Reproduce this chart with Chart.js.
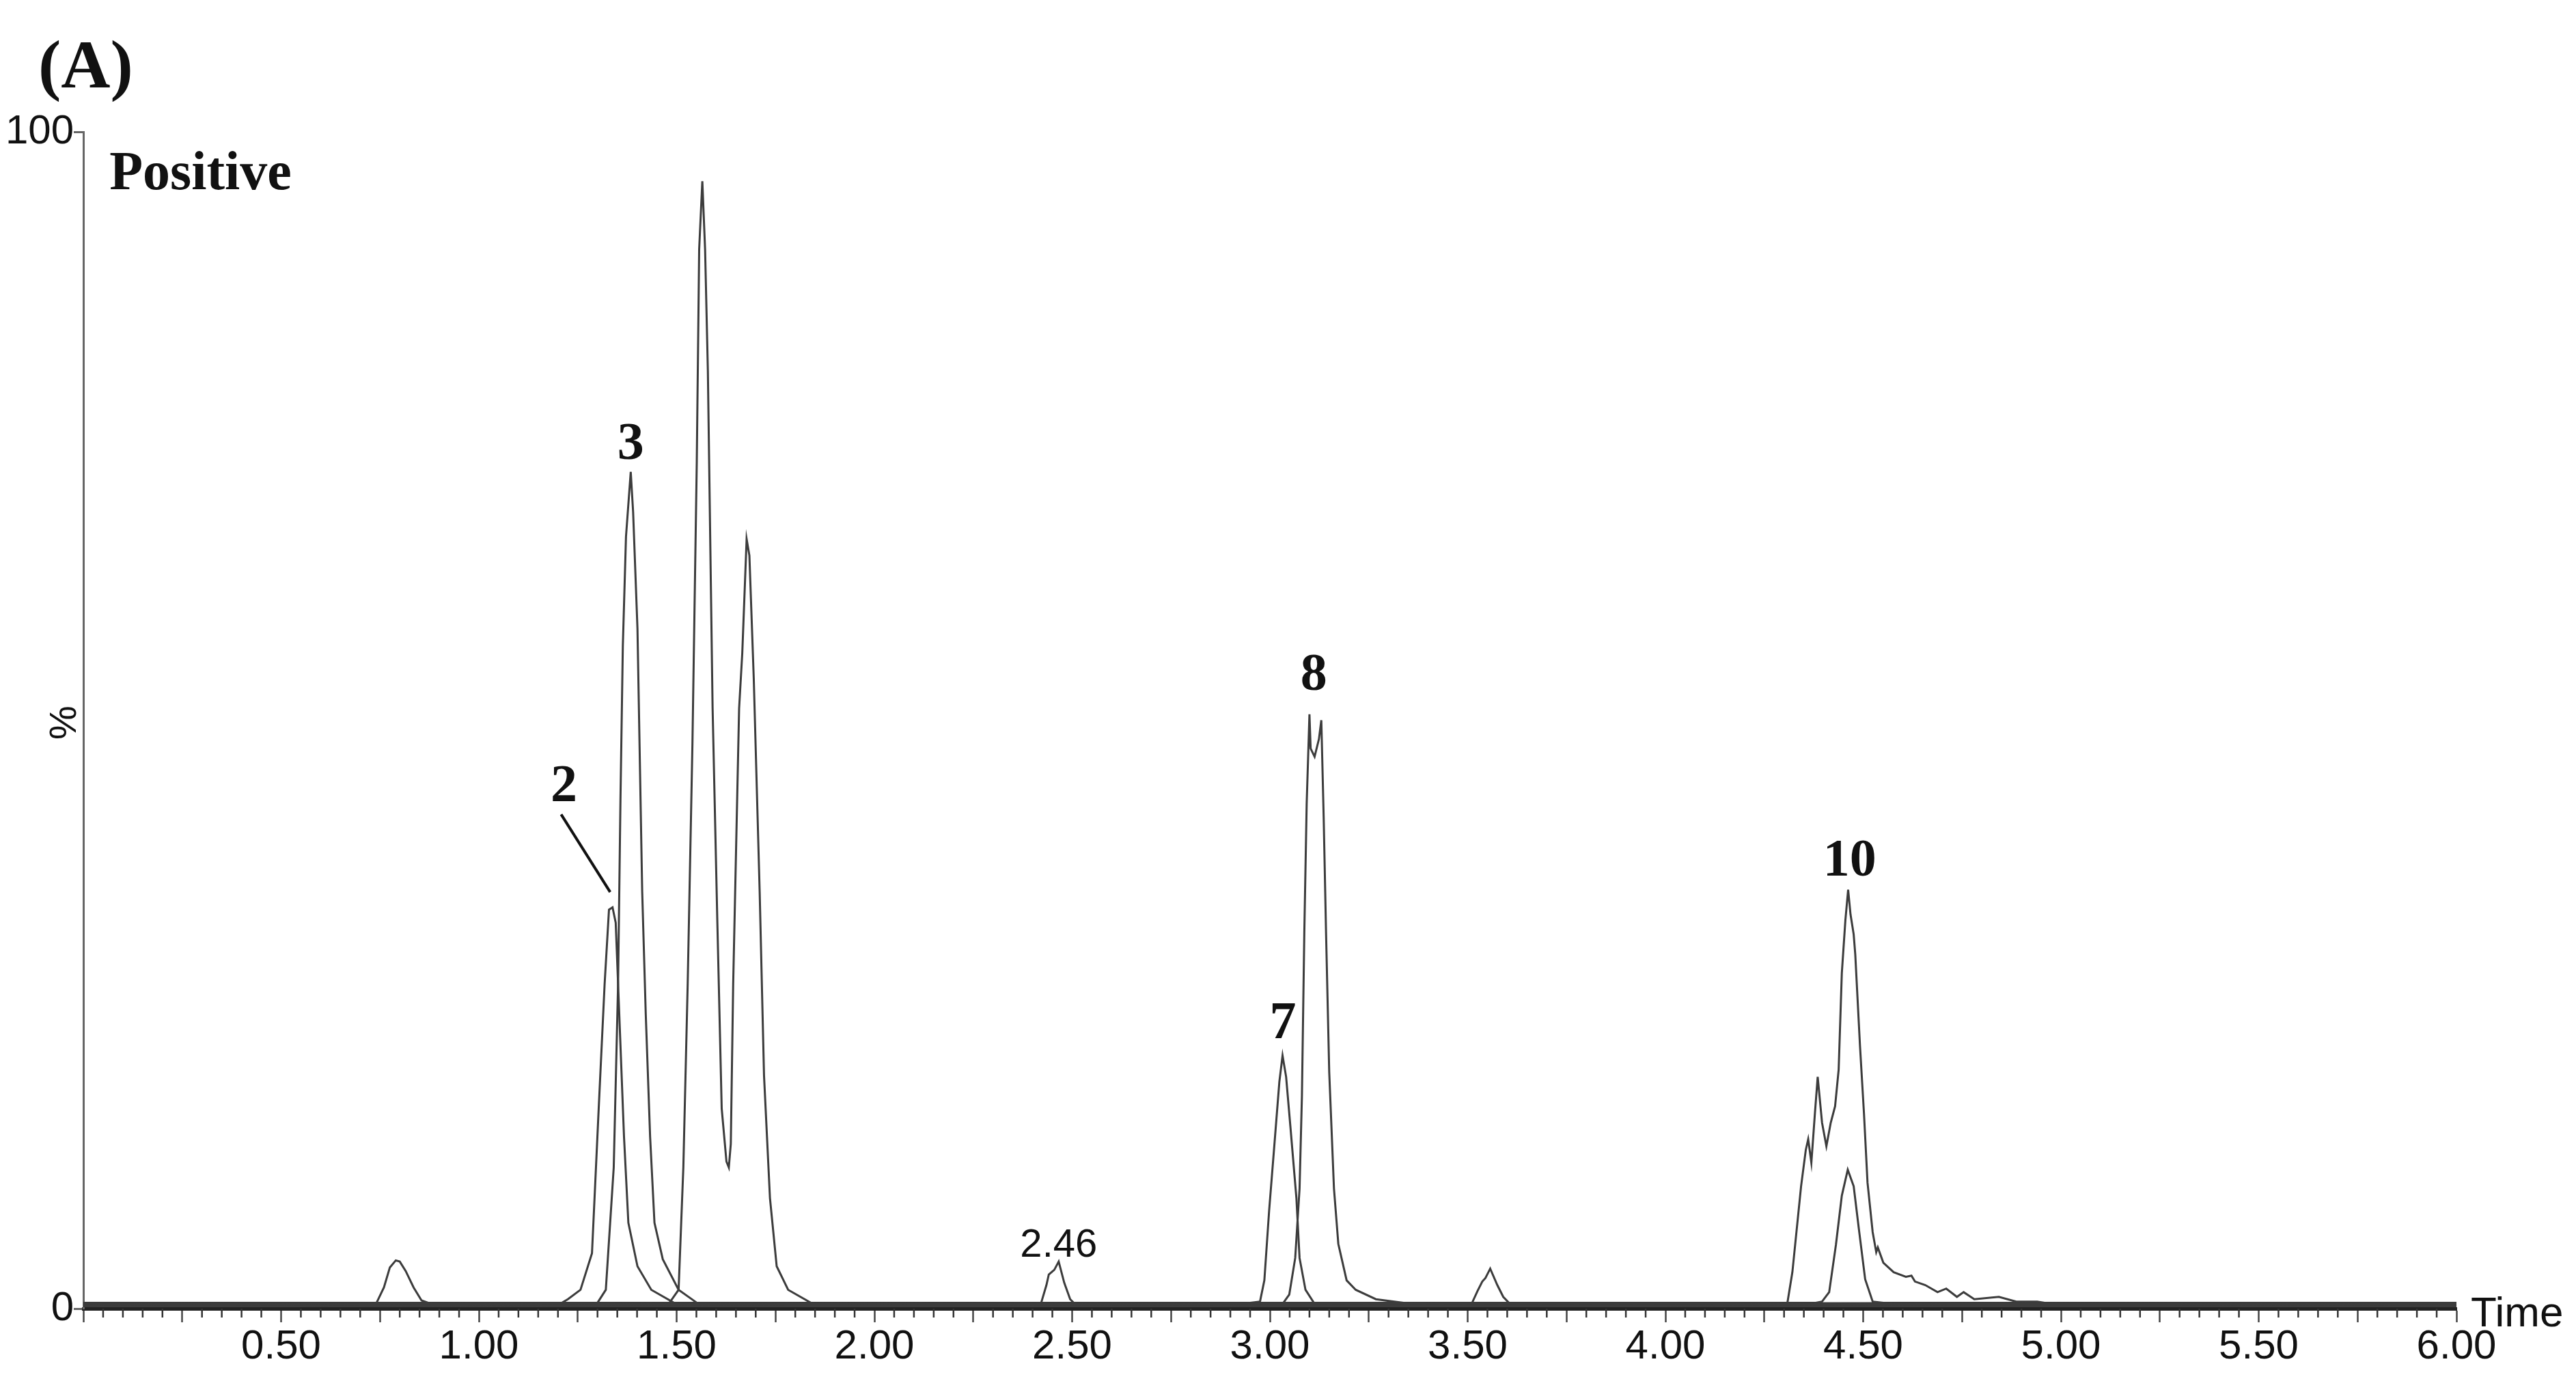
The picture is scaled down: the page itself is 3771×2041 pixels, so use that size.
<!DOCTYPE html>
<html>
<head>
<meta charset="utf-8">
<script src="https://cdn.jsdelivr.net/npm/chart.js@4.4.1/dist/chart.umd.min.js"></script>
<style>
  html, body { margin: 0; padding: 0; background: #fff; }
  canvas { display: block; }
</style>
</head>
<body>
<canvas id="chart" width="3771" height="2041"></canvas>
<script>
// x axis labels (min) and y axis ticks (%)
const timeLabels = ['0.50', '1.00', '1.50', '2.00', '2.50', '3.00', '3.50', '4.00', '4.50', '5.00', '5.50', '6.00'];
const yTicks = [0, 100];

// overlaid chromatogram traces, retention time (min) / relative intensity (%)
const rt078 = [0, 0.30, 0.60, 0.74, 0.76, 0.775, 0.79, 0.80, 0.815, 0.835, 0.855, 0.88, 1.20, 2.00, 3.00, 4.00, 5.00, 6.00];
const int078 = [0.3, 0.4, 0.3, 0.4, 1.8, 3.5, 4.1, 4.0, 3.2, 1.8, 0.7, 0.4, 0.3, 0.4, 0.3, 0.3, 0.4, 0.3];

const rtPeak2 = [0, 1.20, 1.225, 1.257, 1.286, 1.303, 1.318, 1.329, 1.338, 1.346, 1.355, 1.367, 1.378, 1.401, 1.436, 1.493, 1.60, 6.00];
const intPeak2 = [0.2, 0.3, 0.8, 1.6, 4.7, 17, 27.6, 33.9, 34.1, 32.8, 25, 14.6, 7.3, 3.6, 1.6, 0.5, 0.2, 0.2];

const rtPeak3 = [0, 1.30, 1.321, 1.341, 1.352, 1.358, 1.364, 1.372, 1.384, 1.390, 1.401, 1.413, 1.422, 1.433, 1.444, 1.465, 1.505, 1.551, 1.65, 6.00];
const intPeak3 = [0.5, 0.5, 1.6, 12, 27.6, 43.2, 56.3, 65.6, 71.1, 67.7, 57.8, 35.4, 25, 14.6, 7.3, 4.2, 1.6, 0.5, 0.4, 0.5];

const rtDoublet = [0, 1.48, 1.505, 1.517, 1.528, 1.540, 1.551, 1.557, 1.565, 1.572, 1.579, 1.591, 1.603, 1.614, 1.626, 1.632, 1.637, 1.643, 1.658, 1.666, 1.677, 1.684, 1.695, 1.710, 1.721, 1.736, 1.753, 1.782, 1.839, 1.90, 6.00];
const intDoublet = [0.4, 0.4, 1.6, 12, 27.6, 48, 72, 90, 95.8, 90, 79.7, 51, 32.8, 17, 12.5, 12, 14, 27.6, 51, 55.7, 65.4, 64, 53.6, 35.4, 19.8, 9.4, 3.6, 1.6, 0.5, 0.4, 0.4];

const rt246 = [0, 2.42, 2.435, 2.441, 2.455, 2.466, 2.48, 2.495, 2.51, 6.00];
const int246 = [0.3, 0.3, 2.0, 2.9, 3.3, 4.0, 2.2, 0.8, 0.3, 0.3];

const rtPeak7 = [0, 2.95, 2.975, 2.986, 2.998, 3.012, 3.024, 3.032, 3.041, 3.052, 3.067, 3.075, 3.090, 3.113, 3.20, 6.00];
const intPeak7 = [0.4, 0.5, 0.6, 2.4, 8.3, 14.2, 19.3, 21.5, 19.7, 15.4, 9.4, 4.3, 1.6, 0.4, 0.3, 0.4];

const rtPeak8 = [0, 3.00, 3.032, 3.049, 3.064, 3.075, 3.081, 3.087, 3.093, 3.100, 3.103, 3.113, 3.124, 3.130, 3.136, 3.142, 3.150, 3.162, 3.173, 3.194, 3.217, 3.268, 3.338, 3.48, 3.70, 6.00];
const intPeak8 = [0.2, 0.2, 0.4, 1.2, 4.3, 10.2, 18.1, 31.9, 42.9, 50.5, 47.6, 46.9, 48.4, 50, 41.7, 31.9, 20.1, 10.2, 5.5, 2.4, 1.6, 0.8, 0.5, 0.4, 0.2, 0.2];

const rt355 = [0, 3.51, 3.525, 3.537, 3.545, 3.557, 3.575, 3.59, 3.607, 6.00];
const int355 = [0.5, 0.4, 1.5, 2.3, 2.6, 3.4, 2.0, 1.0, 0.4, 0.5];

const rtPeak10 = [0, 4.29, 4.308, 4.321, 4.343, 4.355, 4.361, 4.369, 4.378, 4.385, 4.396, 4.407, 4.418, 4.429, 4.438, 4.446, 4.455, 4.462, 4.468, 4.476, 4.480, 4.492, 4.502, 4.511, 4.524, 4.533, 4.537, 4.551, 4.577, 4.608, 4.622, 4.631, 4.657, 4.688, 4.710, 4.737, 4.754, 4.781, 4.843, 4.887, 4.94, 4.994, 5.2, 6.00];
const intPeak10 = [0.3, 0.3, 0.4, 3.1, 10.4, 13.5, 14.4, 12.4, 16.6, 19.7, 15.8, 13.8, 15.8, 17.2, 20.3, 28.5, 33, 35.6, 33.5, 31.8, 30.1, 22.3, 16.6, 10.7, 6.5, 4.8, 5.2, 3.9, 3.1, 2.7, 2.8, 2.3, 2.0, 1.4, 1.7, 1.0, 1.4, 0.8, 1.0, 0.6, 0.6, 0.3, 0.4, 0.3];

const rt446 = [0, 4.38, 4.396, 4.414, 4.431, 4.446, 4.461, 4.476, 4.489, 4.505, 4.524, 4.551, 6.00];
const int446 = [0.5, 0.5, 0.6, 1.4, 5.4, 9.6, 11.8, 10.4, 6.8, 2.5, 0.6, 0.5, 0.5];

// peak numbers (baseline of the text sits at the given level)
const peakLabelText = ['2', '3', '7', '8', '10'];
const peakLabelTime = [1.215, 1.384, 3.033, 3.111, 4.466];
const peakLabelLevel = [43.1, 72.2, 23.0, 52.6, 36.8];

// leader line from "2" to its peak
const leaderTime = [1.208, 1.332];
const leaderLevel = [42.0, 35.4];

// retention time note
const rtNoteText = '2.46';
const rtNoteTime = 2.466;
const rtNoteLevel = 4.4;

const modeText = 'Positive';
const modeTime = 0.066;
const modeLevel = 95.1;

const traces = [
    [rt078, int078], [rtPeak2, intPeak2], [rtPeak3, intPeak3], [rtDoublet, intDoublet],
    [rt246, int246], [rtPeak7, intPeak7], [rtPeak8, intPeak8], [rt355, int355],
    [rtPeak10, intPeak10], [rt446, int446]
];

const toPoints = (xs, ys) => xs.map((v, i) => ({ x: v, y: ys[i] }));

const datasets = traces.map(([xs, ys]) => ({
    data: toPoints(xs, ys),
    showLine: true,
    borderColor: '#3c3c3c',
    borderWidth: 3,
    pointRadius: 0,
    tension: 0
}));

datasets.push({
    data: toPoints(leaderTime, leaderLevel),
    showLine: true,
    borderColor: '#111',
    borderWidth: 4,
    pointRadius: 0
});

const sans = '"Liberation Sans", Arial, sans-serif';
const serif = '"Liberation Serif", "Times New Roman", serif';

/* text marks: peak numbers, minor ticks, axis captions */
const annotations = {
    id: 'annotations',
    afterDraw(chart) {
        const { ctx, scales: { x, y }, chartArea } = chart;
        ctx.save();

        // minor ticks (every 0.05 min, not on the 0.25 ones)
        ctx.strokeStyle = '#333';
        ctx.lineWidth = 2.5;
        x.ticks.forEach((t, i) => {
            if (i % 5 === 0) return;
            const px = x.getPixelForValue(t.value);
            ctx.beginPath();
            ctx.moveTo(px, chartArea.bottom);
            ctx.lineTo(px, chartArea.bottom + 13);
            ctx.stroke();
        });

        ctx.fillStyle = '#111';
        ctx.textAlign = 'center';
        ctx.textBaseline = 'alphabetic';
        ctx.font = 'bold 78px ' + serif;
        peakLabelText.forEach((txt, i) => {
            ctx.fillText(txt, x.getPixelForValue(peakLabelTime[i]), y.getPixelForValue(peakLabelLevel[i]));
        });

        ctx.font = '58px ' + sans;
        ctx.fillText(rtNoteText, x.getPixelForValue(rtNoteTime), y.getPixelForValue(rtNoteLevel));

        ctx.textAlign = 'left';
        ctx.font = 'bold 80px ' + serif;
        ctx.fillText(modeText, x.getPixelForValue(modeTime), y.getPixelForValue(modeLevel));

        ctx.font = 'bold 100px ' + serif;
        ctx.fillText('(A)', 56, 128);

        ctx.font = '62px ' + sans;
        ctx.fillText('Time', chartArea.right + 21, chartArea.bottom + 26);

        ctx.translate(96, 1058);
        ctx.rotate(-Math.PI / 2);
        ctx.textAlign = 'center';
        ctx.textBaseline = 'middle';
        ctx.font = '56px ' + sans;
        ctx.fillText('%', 0, 0);
        ctx.restore();
    }
};

new Chart(document.getElementById('chart'), {
    type: 'scatter',
    data: { datasets },
    options: {
        responsive: false,
        devicePixelRatio: 1,
        animation: false,
        layout: { padding: { top: 193, right: 175, left: 0, bottom: 0 } },
        plugins: { legend: { display: false }, tooltip: { enabled: false } },
        scales: {
            x: {
                type: 'linear',
                min: 0,
                max: 6,
                afterFit: (axis) => { axis.height = 125; },
                afterBuildTicks: (axis) => {
                    const ticks = [];
                    for (let i = 0; i <= 120; i++) ticks.push({ value: Math.round(i * 5) / 100 });
                    axis.ticks = ticks;
                },
                border: { color: '#222', width: 5 },
                grid: {
                    drawOnChartArea: false,
                    tickLength: 20,
                    tickWidth: 2.5,
                    tickColor: (c) => (c.index % 5 === 0 ? '#444' : 'rgba(0,0,0,0)')
                },
                ticks: {
                    autoSkip: false,
                    maxRotation: 0,
                    minRotation: 0,
                    padding: 0,
                    color: '#111',
                    font: { family: sans, size: 60 },
                    callback: (v) => {
                        const s = Number(v).toFixed(2);
                        return timeLabels.includes(s) ? s : '';
                    }
                }
            },
            y: {
                min: 0,
                max: 100,
                afterFit: (axis) => { axis.width = 122; },
                afterBuildTicks: (axis) => { axis.ticks = yTicks.map(v => ({ value: v })); },
                border: { color: '#666', width: 3 },
                grid: { drawOnChartArea: false, tickLength: 14, tickWidth: 3, tickColor: '#666' },
                ticks: {
                    padding: 0,
                    color: '#111',
                    font: { family: sans, size: 60 }
                }
            }
        }
    },
    plugins: [annotations]
});
</script>
</body>
</html>
